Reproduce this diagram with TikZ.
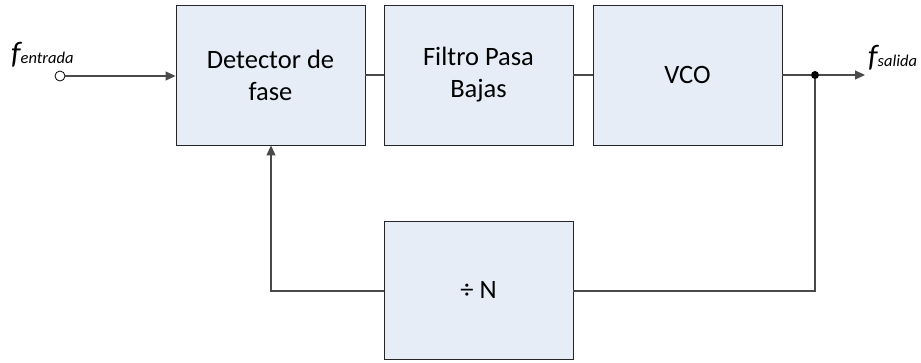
\documentclass[tikz,border=0pt]{standalone}
\usepackage{fontspec}
\setmainfont{Carlito}
\usetikzlibrary{arrows.meta}
\definecolor{boxfill}{HTML}{E6EDF7}
\definecolor{linegray}{HTML}{4A4A4A}
\begin{document}
\begin{tikzpicture}[x=1pt,y=-1pt,
  blk/.style={draw=black!85, line width=0.9pt, fill=boxfill, minimum width=189pt, minimum height=140pt, inner sep=0pt, align=center, font=\fontsize{26.5}{32}\selectfont},
  wire/.style={draw=linegray, line width=1.1pt},
  tip/.style={-{Triangle[length=10pt,width=9pt]}}]
\useasboundingbox (0,0) rectangle (921,362);
\node[blk] (det) at (270.5,75) {Detector de\\fase};
\node[blk] (lpf) at (478.5,75) {Filtro Pasa\\Bajas};
\node[blk] (vco) at (687.5,75) {VCO};
\node[blk, minimum height=138pt] (div) at (478.5,290) {÷ N};
\node[circle, draw=black, line width=0.8pt, fill=white, inner sep=0pt, minimum size=10pt] (in) at (60,76) {};
\node[circle, fill=black, inner sep=0pt, minimum size=8pt] (dot) at (815,75) {};
\coordinate (out) at (865,75);
\coordinate (fbl) at (271,291);
\coordinate (fbr) at (815,291);
\node[anchor=base west, inner sep=0pt, font=\itshape] (fin) at (11,63) {{\fontsize{31}{31}\selectfont f}{\fontsize{16.5}{16.5}\selectfont entrada}};
\node[anchor=base west, inner sep=0pt, font=\itshape] (fout) at (868,66) {{\fontsize{31}{31}\selectfont f}{\fontsize{16.5}{16.5}\selectfont salida}};
\draw[wire, tip] (in) -- (det.west |- in);
\draw[wire] (det.east) -- (lpf.west);
\draw[wire] (lpf.east) -- (vco.west);
\draw[wire] (vco.east) -- (dot);
\draw[wire, tip] (dot) -- (out);
\draw[wire] (dot) -- (fbr) -- (div.east |- fbr);
\draw[wire, tip] (div.west |- fbl) -- (fbl) -- (det.south -| fbl);
\end{tikzpicture}
\end{document}
